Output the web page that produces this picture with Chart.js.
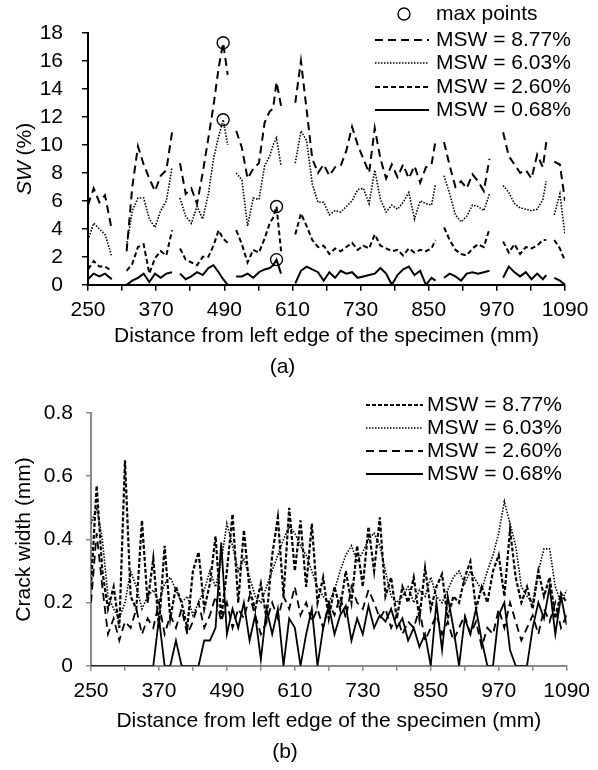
<!DOCTYPE html>
<html>
<head>
<meta charset="utf-8">
<script src="https://cdn.jsdelivr.net/npm/chart.js@4.4.1/dist/chart.umd.min.js"></script>
<style>
  body { margin: 0; background: #fff; }
  canvas { display: block; }
</style>
</head>
<body>
<canvas id="chartA" width="598" height="385"></canvas>
<canvas id="chartB" width="598" height="385"></canvas>
<script>
// ---- data ----
const xTickLabels = [250, 370, 490, 610, 730, 850, 970, 1090];
const xTitle = "Distance from left edge of the specimen (mm)";
const legendLabels = ["MSW = 8.77%", "MSW = 6.03%", "MSW = 2.60%", "MSW = 0.68%"];

// (a) surface width SW (%), gaps (null) where no reading
const topX = [
  250, 260, 270, 280, 292, 305,
  318, 328, 338, 348, 358, 368, 378, 388, 398, 405,
  412, 422, 432, 442, 452, 462, 471, 480, 488, 496, 504,
  511, 521, 531, 541, 551, 561, 570, 576, 582, 590, 603,
  615, 625, 635, 645, 655, 665, 675, 685, 695, 705, 715, 725, 735, 745, 755, 765, 775, 785, 795, 805, 815, 825, 835, 845, 855, 862, 870,
  877, 887, 897, 907, 917, 927, 937, 947, 957, 970,
  981, 991, 1001, 1011, 1021, 1031, 1041, 1051, 1057, 1064,
  1071, 1081, 1090
];
const sw877 = [
  5.7, 6.9, 5.9, 6.4, 3.9, null,
  2.4, 7.0, 9.9, 8.6, 7.6, 6.7, 7.8, 8.2, 10.9, null,
  8.7, 6.5, 6.9, 5.8, 8.0, 10.5, 12.8, 15.5, 17.3, 15.0, null,
  11.0, 9.8, 7.6, 8.3, 8.7, 11.6, 12.4, 12.6, 14.5, 12.8, null,
  13.0, 16.0, 12.5, 9.0, 8.0, 8.6, 7.8, 8.4, 8.5, 9.6, 11.3, 10.0, 9.0, 8.0, 11.2, 9.0, 7.6, 8.6, 7.7, 8.6, 7.6, 8.5, 7.3, 8.4, 8.6, 10.3, null,
  10.2, 8.5, 7.0, 7.4, 6.9, 7.9, 7.4, 6.7, 9.0, null,
  10.9, 9.2, 8.6, 8.0, 8.2, 7.6, 9.3, 8.4, 10.2, null,
  8.8, 8.6, 6.0
];
const sw603 = [
  3.2, 4.4, 4.0, 3.6, 2.0, null,
  2.8, 5.3, 6.2, 6.2, 4.7, 4.1, 5.3, 6.0, 8.4, null,
  6.2, 4.9, 4.4, 5.6, 4.7, 6.5, 9.0, 10.6, 11.8, 10.0, null,
  8.0, 7.5, 4.2, 6.2, 6.1, 8.5, 9.2, 10.0, 10.5, 8.5, null,
  8.7, 11.0, 10.3, 7.2, 5.9, 5.9, 5.0, 5.3, 5.2, 5.6, 6.0, 6.8, 6.9, 5.8, 8.2, 6.1, 5.2, 5.7, 5.4, 5.9, 6.6, 4.7, 6.0, 5.8, 5.7, 7.2, null,
  7.8, 6.5, 5.0, 4.5, 4.9, 5.7, 5.6, 5.3, 6.5, null,
  7.1, 6.6, 5.8, 5.5, 5.4, 5.3, 5.4, 6.1, 7.4, null,
  5.0, 6.5, 3.6
];
const sw260 = [
  1.1, 1.7, 1.3, 1.3, 1.0, null,
  1.0, 1.5, 2.7, 2.9, 0.8, 1.9, 2.4, 2.1, 3.9, null,
  2.6, 1.8, 1.6, 1.4, 2.0, 2.0, 2.8, 3.9, 3.3, 3.0, null,
  3.9, 2.9, 1.6, 2.5, 2.3, 3.3, 4.4, 4.8, 5.6, 2.4, null,
  3.6, 5.1, 4.2, 3.2, 2.7, 2.8, 2.2, 2.6, 2.4, 2.7, 3.0, 2.5, 2.8, 2.6, 3.6, 2.8, 2.6, 2.4, 2.5, 2.1, 2.6, 2.3, 2.5, 2.4, 2.6, 3.2, null,
  4.1, 3.2, 2.5, 2.2, 2.1, 2.6, 2.9, 2.7, 4.0, null,
  3.1, 2.3, 2.9, 2.2, 2.7, 2.6, 2.8, 3.2, 3.2, null,
  3.2, 2.6, 1.7
];
const sw068 = [
  0.4, 0.8, 0.6, 0.8, 0.4, null,
  0.0, 0.3, 0.5, 0.8, 0.2, 0.8, 0.5, 0.8, 0.9, null,
  0.8, 0.4, 0.6, 0.9, 0.7, 1.2, 1.4, 0.9, 0.4, 0.0, null,
  0.6, 0.6, 0.8, 0.5, 0.9, 1.1, 1.2, 1.4, 1.8, 0.8, null,
  0.1, 1.0, 1.3, 1.1, 0.9, 0.3, 0.9, 0.5, 1.0, 0.8, 0.9, 0.5, 0.6, 0.7, 0.8, 1.2, 0.8, 0.0, 0.7, 1.1, 1.3, 0.7, 1.0, 0.0, 0.5, 0.3, null,
  0.5, 0.8, 0.6, 0.3, 0.8, 0.9, 0.8, 0.9, 1.0, null,
  0.5, 1.3, 0.9, 0.6, 0.9, 0.4, 0.8, 0.4, 0.7, null,
  0.5, 0.3, 0.0
];
const maxX = [488, 488, 582, 582];
const maxY = [17.3, 11.8, 5.6, 1.8];

// (b) crack width (mm), one reading every 10 mm from 250 to 1090
const bottomX = Array.from({ length: 85 }, (_, i) => 250 + i * 10);
const cw877 = [
  0.25, 0.57, 0.30, 0.18, 0.25, 0.12, 0.65, 0.22, 0.18, 0.46,
  0.20, 0.34, 0.12, 0.38, 0.15, 0.25, 0.20, 0.12, 0.30, 0.36,
  0.18, 0.26, 0.41, 0.15, 0.30, 0.48, 0.20, 0.43, 0.24, 0.18,
  0.26, 0.15, 0.35, 0.47, 0.22, 0.50, 0.30, 0.46, 0.25, 0.45,
  0.20, 0.28, 0.15, 0.25, 0.18, 0.30, 0.20, 0.38, 0.25, 0.44,
  0.30, 0.47, 0.22, 0.28, 0.15, 0.25, 0.20, 0.28, 0.15, 0.31,
  0.18, 0.25, 0.29, 0.15, 0.22, 0.20, 0.28, 0.33, 0.18, 0.25,
  0.20, 0.30, 0.35, 0.22, 0.43, 0.28, 0.20, 0.25, 0.18, 0.30,
  0.22, 0.28, 0.15, 0.23, 0.20
];
const cw603 = [
  0.45, 0.50, 0.40, 0.22, 0.18, 0.15, 0.20, 0.30, 0.25, 0.18,
  0.22, 0.24, 0.20, 0.26, 0.28, 0.24, 0.20, 0.22, 0.16, 0.20,
  0.24, 0.30, 0.25, 0.33, 0.45, 0.38, 0.30, 0.34, 0.28, 0.22,
  0.20, 0.25, 0.30, 0.35, 0.40, 0.44, 0.42, 0.38, 0.35, 0.30,
  0.25, 0.22, 0.20, 0.24, 0.30, 0.35, 0.38, 0.33, 0.36, 0.40,
  0.42, 0.38, 0.30, 0.22, 0.20, 0.22, 0.25, 0.20, 0.24, 0.22,
  0.28, 0.22, 0.20, 0.24, 0.28, 0.30, 0.26, 0.30, 0.27, 0.24,
  0.30, 0.35, 0.42, 0.52, 0.45, 0.38, 0.25, 0.22, 0.20, 0.30,
  0.37, 0.37, 0.25, 0.20, 0.24
];
const cw260 = [
  0.20, 0.42, 0.25, 0.10, 0.15, 0.08, 0.14, 0.12, 0.18, 0.10,
  0.15, 0.12, 0.20, 0.10, 0.16, 0.12, 0.18, 0.10, 0.14, 0.20,
  0.12, 0.16, 0.22, 0.14, 0.20, 0.12, 0.18, 0.15, 0.22, 0.16,
  0.10, 0.14, 0.20, 0.15, 0.22, 0.18, 0.25, 0.16, 0.20, 0.14,
  0.18, 0.12, 0.20, 0.16, 0.22, 0.15, 0.25, 0.20, 0.18, 0.24,
  0.20, 0.15, 0.18, 0.12, 0.16, 0.10, 0.14, 0.12, 0.18, 0.08,
  0.12, 0.16, 0.10, 0.14, 0.08, 0.12, 0.16, 0.10, 0.14, 0.06,
  0.12, 0.10, 0.18, 0.12, 0.20, 0.14, 0.08, 0.12, 0.16, 0.10,
  0.18, 0.14, 0.20, 0.12, 0.16
];
const cw068 = [
  0, 0, 0, 0, 0, 0, 0, 0, 0, 0,
  0, 0, 0.15, 0, 0, 0.08, 0, 0, 0, 0,
  0.08, 0.08, 0.12, 0.39, 0.10, 0.18, 0.12, 0.20, 0.08, 0.16,
  0.02, 0.18, 0.10, 0.18, 0, 0.15, 0.12, 0, 0.10, 0.18,
  0, 0.12, 0.19, 0.10, 0.16, 0.19, 0.08, 0.15, 0.10, 0.19,
  0.12, 0.16, 0.14, 0.18, 0.12, 0.15, 0.08, 0.12, 0.06, 0.10,
  0, 0.20, 0.05, 0.22, 0.12, 0, 0.15, 0.10, 0.18, 0.08,
  0, 0, 0.16, 0.20, 0.05, 0, 0, 0, 0.12, 0.20,
  0.15, 0.25, 0.10, 0.22, 0.13
];

// ---- helpers ----
const FONT = '"Liberation Sans", Arial, sans-serif';
const FSIZE = 21;
Chart.defaults.font.family = FONT;
Chart.defaults.font.size = FSIZE;
Chart.defaults.color = "#000";

function series(label, xs, ys, dash, width) {
  return {
    label,
    data: xs.map((x, i) => ({ x, y: ys[i] })),
    borderColor: "#000",
    borderWidth: width,
    borderDash: dash,
    pointRadius: 0,
    spanGaps: false,
    fill: false,
    tension: 0
  };
}

function xAxis(color, height, tickLen, pad) {
  return {
    type: "linear",
    min: 250,
    max: 1090,
    afterFit: s => { s.height = height; },
    ticks: {
      stepSize: 60,
      autoSkip: false,
      maxRotation: 0,
      padding: pad,
      callback: v => (xTickLabels.includes(v) ? String(v) : "")
    },
    grid: { drawOnChartArea: false, drawTicks: true, tickLength: tickLen, color: color, lineWidth: 1.5 },
    border: { color: color, width: 2 },
    title: { display: true, text: xTitle, padding: { top: 0, bottom: 0 } }
  };
}

// legend drawn inside the plot area, line sample left of the text
const lineLegend = {
  id: "lineLegend",
  afterDatasetsDraw(chart, args, opts) {
    const ctx = chart.ctx;
    ctx.save();
    ctx.font = FSIZE + "px " + FONT;
    ctx.fillStyle = "#000";
    ctx.strokeStyle = "#000";
    ctx.textBaseline = "middle";
    chart.data.datasets.forEach((ds, i) => {
      const y = opts.rowY[i];
      ctx.fillText(ds.label, opts.textX, y);
      ctx.beginPath();
      if (ds.showLine === false) {
        ctx.setLineDash([]);
        ctx.lineWidth = ds.pointBorderWidth;
        ctx.arc(opts.markerX, y, ds.pointRadius, 0, Math.PI * 2);
      } else {
        ctx.setLineDash(ds.borderDash || []);
        ctx.lineWidth = ds.borderWidth;
        ctx.moveTo(opts.lineX0, y);
        ctx.lineTo(opts.lineX1, y);
      }
      ctx.stroke();
    });
    ctx.restore();
  }
};

// y title with italic "SW"
const mixedYTitle = {
  id: "mixedYTitle",
  afterDraw(chart, args, opts) {
    if (!opts.parts) return;
    const { ctx, chartArea } = chart;
    ctx.save();
    ctx.translate(opts.x, (chartArea.top + chartArea.bottom) / 2);
    ctx.rotate(-Math.PI / 2);
    ctx.textBaseline = "middle";
    ctx.fillStyle = "#000";
    const fonts = opts.parts.map(p => (p.italic ? "italic " : "") + FSIZE + "px " + FONT);
    const widths = opts.parts.map((p, i) => { ctx.font = fonts[i]; return ctx.measureText(p.text).width; });
    let x = -widths.reduce((a, b) => a + b, 0) / 2;
    opts.parts.forEach((p, i) => {
      ctx.font = fonts[i];
      ctx.fillText(p.text, x, 0);
      x += widths[i];
    });
    ctx.restore();
  }
};

// ---- chart (a) ----
new Chart(document.getElementById("chartA"), {
  type: "line",
  data: {
    datasets: [
      {
        label: "max points",
        data: maxX.map((x, i) => ({ x, y: maxY[i] })),
        showLine: false,
        pointStyle: "circle",
        pointRadius: 6,
        pointBorderWidth: 1.4,
        pointBorderColor: "#000",
        pointBackgroundColor: "rgba(0,0,0,0)"
      },
      series(legendLabels[0], topX, sw877, [8, 5], 2),
      series(legendLabels[1], topX, sw603, [1.5, 1.5], 1.6),
      series(legendLabels[2], topX, sw260, [5, 3], 2),
      series(legendLabels[3], topX, sw068, [], 2)
    ]
  },
  options: {
    responsive: false,
    animation: false,
    layout: { padding: { top: 33, right: 33, bottom: 5, left: 0 } },
    scales: {
      x: xAxis("#000", 64, 6, 7),
      y: {
        min: 0,
        max: 18,
        afterFit: s => { s.width = 88; },
        ticks: { stepSize: 2, padding: 19, autoSkip: false },
        grid: { drawOnChartArea: false, tickLength: 6, color: "#000", lineWidth: 1.5 },
        border: { color: "#000", width: 2 }
      }
    },
    plugins: {
      legend: { display: false },
      tooltip: { enabled: false },
      title: { display: true, text: "(a)", position: "bottom", font: { size: FSIZE, weight: "normal" }, padding: { top: 6, bottom: 0 } },
      lineLegend: { rowY: [14, 40, 63, 87, 110], textX: 436, markerX: 404, lineX0: 375, lineX1: 429 },
      mixedYTitle: { x: 25, parts: [{ text: "SW", italic: true }, { text: " (%)", italic: false }] }
    }
  },
  plugins: [lineLegend, mixedYTitle]
});

// ---- chart (b) ----
const gray = "#8a8a8a";
new Chart(document.getElementById("chartB"), {
  type: "line",
  data: {
    datasets: [
      series(legendLabels[0], bottomX, cw877, [4, 2], 2.2),
      series(legendLabels[1], bottomX, cw603, [1.5, 1.5], 1.6),
      series(legendLabels[2], bottomX, cw260, [8, 5], 1.8),
      series(legendLabels[3], bottomX, cw068, [], 1.8)
    ]
  },
  options: {
    responsive: false,
    animation: false,
    layout: { padding: { top: 28, right: 28, bottom: 5, left: 0 } },
    scales: {
      x: xAxis(gray, 68, 5, 8),
      y: {
        min: 0,
        max: 0.8,
        afterFit: s => { s.width = 91; },
        ticks: { stepSize: 0.2, padding: 13, autoSkip: false },
        grid: { drawOnChartArea: false, tickLength: 5, color: gray, lineWidth: 1.5 },
        border: { color: gray, width: 2 },
        title: { display: true, text: "Crack width (mm)", padding: { top: 12, bottom: 0 } }
      }
    },
    plugins: {
      legend: { display: false },
      tooltip: { enabled: false },
      title: { display: true, text: "(b)", position: "bottom", font: { size: FSIZE, weight: "normal" }, padding: { top: 6, bottom: 0 } },
      lineLegend: { rowY: [20, 43, 66, 89], textX: 427, markerX: 0, lineX0: 366, lineX1: 423 }
    }
  },
  plugins: [lineLegend]
});
</script>
</body>
</html>
